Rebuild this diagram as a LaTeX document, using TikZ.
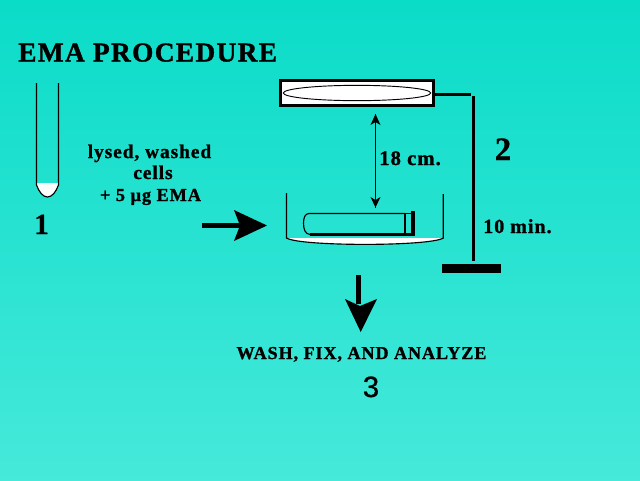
\documentclass[tikz,border=0pt]{standalone}
\usepackage{fontspec}
\setmainfont{Liberation Serif}
\newfontfamily\spaced[LetterSpace=5,FakeBold=1.2]{Liberation Serif Bold}
\newfontfamily\plainbold[FakeBold=0.6]{Liberation Serif Bold}
\newfontfamily\sansnum[FakeBold=0.8]{Liberation Sans}
\usetikzlibrary{shapes.geometric}
\definecolor{bgtop}{RGB}{10,220,200}
\definecolor{bgbot}{RGB}{70,233,218}
\tikzset{
  lbl/.style={inner sep=0pt,anchor=base,font=\spaced\fontsize{14.5}{16}\selectfont},
  big num/.style={inner sep=0pt,anchor=base,font=\plainbold\fontsize{#1}{26}\selectfont},
  thin line/.style={draw=black,line width=0.85pt},
  bar/.style={draw=black,line width=2.2pt},
  solid tip/.style={fill=black,draw=none}
}
\begin{document}
\begin{tikzpicture}[x=0.75pt,y=-0.75pt]
\useasboundingbox (0,0) rectangle (640,480);
\shade[top color=bgtop,bottom color=bgbot] (0,0) rectangle (640,480);
% title
\node[lbl,anchor=base west,font=\spaced\fontsize{20.5}{24}\selectfont] (title) at (18,61.5) {EMA PROCEDURE};
% tube 1
\fill[white] (36.5,183) -- (58.5,183) -- (58.5,185) .. controls (56,192) and (52,197) .. (47.5,197) .. controls (43,197) and (39,192) .. (36.5,185) -- cycle;
\draw[thin line] (36.5,83) -- (36.5,185) .. controls (39,192) and (43,197) .. (47.5,197) .. controls (52,197) and (56,192) .. (58.5,185) -- (58.5,83);
\node[big num=22] (one) at (41.5,234) {1};
% text
\node[lbl] (cellsa) at (149.5,158) {lysed, washed};
\node[lbl] (cellsb) at (153,179) {cells};
\node[lbl,font=\spaced\fontsize{13.7}{16}\selectfont] (cellsc) at (150.5,201) {+ 5 µg EMA};
% right arrow
\coordinate (ra) at (202,225.5);
\coordinate (rb) at (267,225.5);
\coordinate (rc) at (240,225.5);
\draw[draw=black,line width=3.9pt] (ra) -- (rc);
\fill[solid tip] (rb) -- (234,210) -- (240,225.5) -- (234,241) -- cycle;
% lamp
\node[draw=black,line width=2.4pt,fill=white,inner sep=0pt,
  minimum width=115pt,minimum height=19pt] (lamp) at (357,93) {};
\node[draw=black,line width=0.7pt,ellipse,inner sep=0pt,minimum width=110.5pt,minimum height=11.5pt,fill=white] (tubelamp) at (357,93) {};
% stand
\node[fill=black,inner sep=0pt,minimum width=44.25pt,minimum height=6.75pt] (base) at (471.5,268.5) {};
\coordinate (poletop) at (473.5,96);
\coordinate (polebot) at (473.5,261);
\coordinate (armstart) at (434,94.3);
\coordinate (armend) at (471,94.3);
\draw[line width=2pt] (armstart) -- (armend);
\draw[bar] (poletop) -- (polebot);
% distance arrow
\coordinate (da) at (375.5,114);
\coordinate (db) at (375.5,207.5);
\draw[thin line] (da) -- (db);
\fill[solid tip] (da) -- (380.5,125) -- (375.5,122) -- (370.5,125) -- cycle;
\fill[solid tip] (db) -- (380.5,197) -- (375.5,200) -- (370.5,197) -- cycle;
\node[lbl,anchor=base west,font=\spaced\fontsize{15.5}{17}\selectfont] (dist) at (379,165) {18 cm.};
\node[big num=24.5] (two) at (503,160) {2};
\node[lbl,anchor=base west,font=\spaced\fontsize{15}{17}\selectfont] (time) at (483,233) {10 min.};
% dish
\fill[white] (287,238) .. controls (300,246.5) and (430,246.5) .. (443,238) -- cycle;
\draw[thin line] (286.5,193) -- (286.5,238) .. controls (300,246.5) and (430,246.5) .. (443.3,238) -- (443.3,194);
% sample tube
\draw[thin line] (405,213.5) -- (309,213.5) .. controls (305,213.5) and (303.5,218) .. (303.5,223) .. controls (303.5,229) and (305,234) .. (310,234.5);
\draw[thin line] (405,213.5) rectangle (413,234.5);
\draw[bar] (310,234.5) -- (411,234.5);
\fill[black] (411,211) rectangle (415,235.5);
% down arrow
\coordinate (dna) at (358.5,275);
\coordinate (dnb) at (360.7,332);
\coordinate (dnc) at (358.5,304);
\draw[line width=3.7pt] (dna) -- (dnc);
\fill[solid tip] (dnb) -- (345,299) -- (360,306) -- (377,299) -- cycle;
\node[lbl,font=\spaced\fontsize{13.6}{15}\selectfont] (wash) at (361.5,359) {WASH, FIX, AND ANALYZE};
\node[inner sep=0pt,anchor=base,font=\sansnum\fontsize{22}{24}\selectfont] (three) at (371,397) {3};
\end{tikzpicture}
\end{document}
